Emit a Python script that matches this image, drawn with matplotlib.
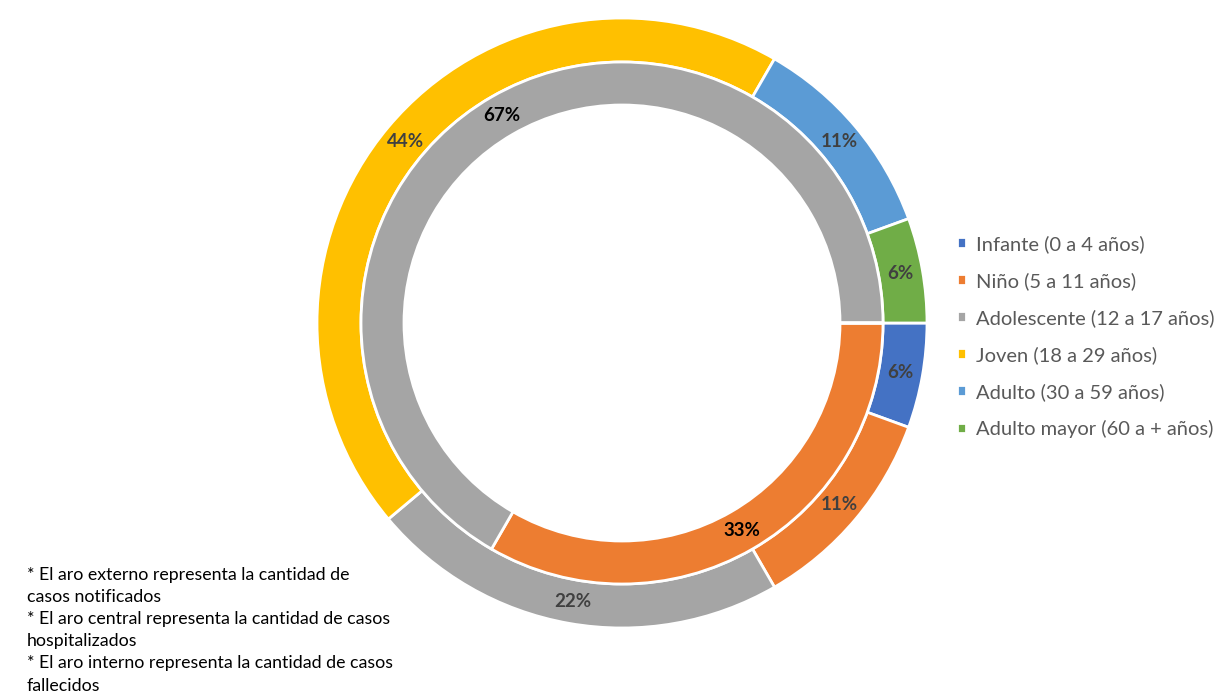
# =========================
# LIBRERÍAS
# =========================
import matplotlib.pyplot as plt

# =========================
# DATOS
# =========================
categorias = [
    "Infante (0 a 4 años)",
    "Niño (5 a 11 años)",
    "Adolescente (12 a 17 años)",
    "Joven (18 a 29 años)",
    "Adulto (30 a 59 años)",
    "Adulto mayor (60 a + años)",
]
notificados = [1, 2, 4, 8, 2, 1]       # aro externo
hospitalizados = [0, 1, 2, 0, 0, 0]    # aro central
fallecidos = [0, 0, 0, 0, 0, 0]        # aro interno (sin casos)

colores = ["#4472C4", "#ED7D31", "#A5A5A5", "#FFC000", "#5B9BD5", "#70AD47"]

nota = ("* El aro externo representa la cantidad de\ncasos notificados\n"
        "* El aro central representa la cantidad de casos\nhospitalizados\n"
        "* El aro interno representa la cantidad de casos\nfallecidos")

plt.rcParams["font.family"] = ["Lato", "DejaVu Sans"]


def pct(v):
    return "" if v < 0.5 else f"{v:.0f}%"


# =========================
# FIGURA
# =========================
W, H = 1217, 700
fig = plt.figure(figsize=(W / 100, H / 100), dpi=100)
cx, cy, R = 622, 700 - 323, 305
ax = fig.add_axes([(cx - R) / W, (cy - R) / H, 2 * R / W, 2 * R / H])

r_ext, w_ext = 1.0, 44 / R
r_mid, w_mid = 261 / R, 43 / R

cunas, _, txt_ext = ax.pie(
    notificados, radius=r_ext, colors=colores, autopct=pct,
    pctdistance=1 - w_ext / 2,
    textprops=dict(color="#404040", fontsize=13.5, fontweight="bold"),
    wedgeprops=dict(width=w_ext, edgecolor="white", linewidth=2),
    startangle=0, counterclock=False,
)
ax.pie(
    hospitalizados, radius=r_mid, colors=colores, autopct=pct,
    pctdistance=1 - (w_mid / 2) / r_mid,
    textprops=dict(color="black", fontsize=13.5, fontweight="bold"),
    wedgeprops=dict(width=w_mid, edgecolor="white", linewidth=2),
    startangle=0, counterclock=False,
)
if sum(fallecidos) > 0:
    ax.pie(fallecidos, radius=218 / R, colors=colores,
           wedgeprops=dict(width=43 / R, edgecolor="white", linewidth=2),
           startangle=0, counterclock=False)

ax.set_xlim(-1, 1)
ax.set_ylim(-1, 1)

# LEYENDA
fig.legend(
    cunas, categorias, loc="upper left",
    bbox_to_anchor=(957 / W, 1 - 235 / H), frameon=False,
    fontsize=14.5, labelcolor="#595959",
    handlelength=0.45, handleheight=0.45, handletextpad=0.5,
    labelspacing=0.95, borderpad=0, borderaxespad=0,
)

# NOTA
fig.text(27 / W, 1 - 567 / H, nota, ha="left", va="top",
         fontsize=12.75, color="black", linespacing=1.47)

fig.savefig("out.png", dpi=100)
